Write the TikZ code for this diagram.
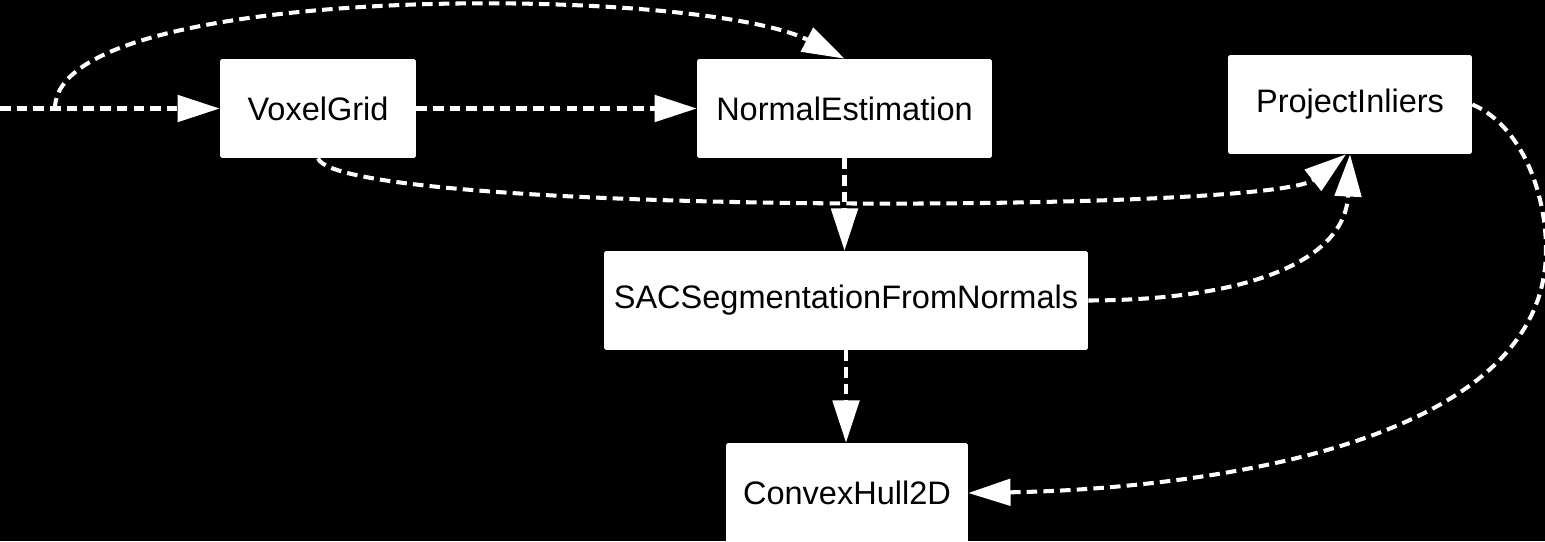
\documentclass[tikz,border=0pt]{standalone}
\usepackage{fontspec}
\setmainfont{Liberation Sans}
\usetikzlibrary{arrows.meta}
\begin{document}
\begin{tikzpicture}[x=0.02cm,y=-0.02cm,
  box/.style={draw=none,fill=white,rounded corners=1pt,inner sep=0pt,
    font=\fontsize{18.5pt}{22pt}\selectfont,text=black,minimum height=1.98cm},
  link/.style={draw=white,line width=2.3pt,dash pattern=on 6pt off 3.5pt,
    -{Triangle[length=24pt,width=15pt,fill=white]}}]
\fill[black] (0,0) rectangle (1545,541);
\clip (0,0) rectangle (1545,541);
\useasboundingbox (0,0) rectangle (1545,541);

\node[box,minimum width=3.92cm] (VG) at (318,108.5) {VoxelGrid};
\node[box,minimum width=5.9cm] (NE) at (844.5,108.5) {NormalEstimation};
\node[box,minimum width=4.88cm] (PI) at (1350,104.5) {ProjectInliers};
\node[box,minimum width=9.68cm] (SAC) at (846,300.5) {SACSegmentationFromNormals};
\node[box,minimum width=4.84cm,minimum height=2cm] (CH) at (847,493) {ConvexHull2D};

\coordinate (in0) at (0,108.5);
\coordinate (split) at (55,108.5);

\draw[link] (in0) -- (VG.west);
\draw[link] (split) .. controls (55,-20) and (700,-15) .. (NE.north);
\draw[link] (VG.east) -- (NE.west);
\draw[link] (VG.south) .. controls (340,215) and (1270,214) .. ([xshift=-0.08cm]PI.south);
\draw[link] (NE.south) -- (NE.south |- SAC.north);
\draw[link] (SAC.east) .. controls (1250,300) and (1345,260) .. (PI.south);
\draw[link] (SAC.south) -- (SAC.south |- CH.north);
\draw[link] (PI.east) .. controls (1520,125) and (1546,190) .. (1546,250)
  .. controls (1546,460) and (1150,490) .. (CH.east);
\end{tikzpicture}
\end{document}
